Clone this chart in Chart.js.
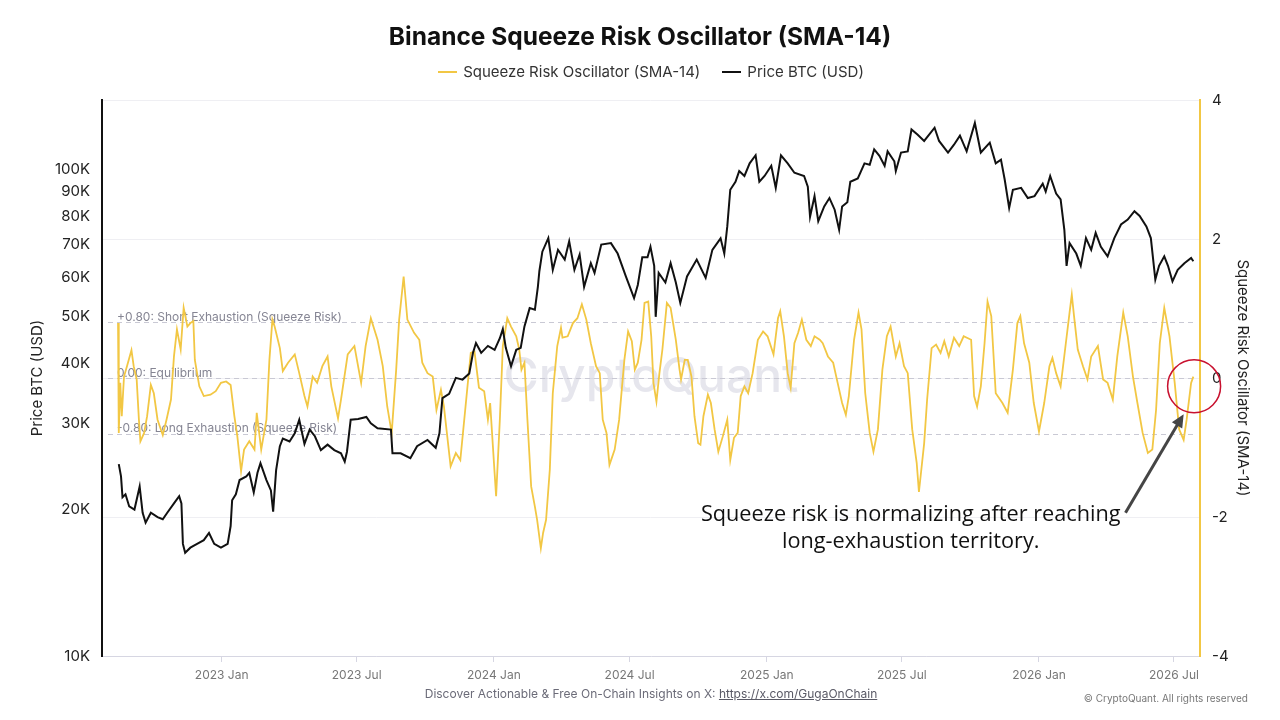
<!DOCTYPE html>
<html>
<head>
<meta charset="utf-8">
<script src="https://cdn.jsdelivr.net/npm/chart.js@4.4.1/dist/chart.umd.min.js"></script>
<style>
  html, body { margin: 0; padding: 0; background: #fff; }
  #wrap { position: relative; width: 1280px; height: 720px; }
  #legend { position: absolute; top: 62px; left: 102px; width: 1098px; text-align: center; font: 15px Inter, "Noto Sans", sans-serif; color: #333; line-height: 19px; }
  #legend .item { margin: 0 11px; white-space: nowrap; }
  #legend i { display: inline-block; width: 19px; height: 2px; vertical-align: middle; margin-right: 6px; position: relative; top: -1px; }
  #footer { position: absolute; left: 102px; width: 1098px; top: 686px; text-align: center; font: 12px Inter, "Noto Sans", sans-serif; color: #6b6b78; line-height: 16px; }
  #footer a { color: #5a5a66; }
  #copy { position: absolute; right: 32px; top: 692px; font: 10px Inter, "Noto Sans", sans-serif; color: #777; line-height: 12px; }
</style>
</head>
<body>
<div id="wrap">
  <canvas id="chart" width="1280" height="720"></canvas>
  <div id="legend"></div>
  <div id="footer">Discover Actionable &amp; Free On-Chain Insights on X: <a href="#">https://x.com/GugaOnChain</a></div>
  <div id="copy">© CryptoQuant. All rights reserved</div>
</div>
<script>
// ---- data ----
const priceDates = [
  '2022-08-16','2022-08-19','2022-08-21','2022-08-25','2022-08-30','2022-09-06','2022-09-13','2022-09-17','2022-09-21','2022-09-28',
  '2022-10-07','2022-10-14','2022-10-20','2022-10-29','2022-11-05','2022-11-08','2022-11-10','2022-11-13','2022-11-20','2022-11-29',
  '2022-12-08','2022-12-15','2022-12-22','2022-12-31','2023-01-09','2023-01-13','2023-01-15','2023-01-20','2023-01-25','2023-02-03',
  '2023-02-07','2023-02-13','2023-02-18','2023-02-22','2023-03-02','2023-03-08','2023-03-11','2023-03-15','2023-03-20','2023-03-24',
  '2023-04-02','2023-04-09','2023-04-15','2023-04-22','2023-04-29','2023-05-06','2023-05-14','2023-05-23','2023-06-01','2023-06-10',
  '2023-06-15','2023-06-18','2023-06-23','2023-07-03','2023-07-14','2023-07-20','2023-07-29','2023-08-16','2023-08-18','2023-08-29',
  '2023-09-11','2023-09-20','2023-10-04','2023-10-15','2023-10-20','2023-10-24','2023-11-02','2023-11-11','2023-11-20','2023-11-29',
  '2023-12-04','2023-12-08','2023-12-15','2023-12-24','2024-01-02','2024-01-09','2024-01-13','2024-01-17','2024-01-24','2024-01-31',
  '2024-02-06','2024-02-11','2024-02-18','2024-02-25','2024-02-29','2024-03-02','2024-03-06','2024-03-14','2024-03-20','2024-03-27',
  '2024-04-05','2024-04-11','2024-04-18','2024-04-25','2024-05-01','2024-05-10','2024-05-15','2024-05-24','2024-06-06','2024-06-15',
  '2024-06-26','2024-07-07','2024-07-12','2024-07-18','2024-07-25','2024-07-29','2024-08-03','2024-08-05','2024-08-09','2024-08-18',
  '2024-08-25','2024-09-01','2024-09-07','2024-09-16','2024-09-29','2024-10-11','2024-10-20','2024-10-31','2024-11-05','2024-11-09',
  '2024-11-13','2024-11-20','2024-11-25','2024-12-02','2024-12-09','2024-12-17','2024-12-22','2024-12-29','2025-01-07','2025-01-13',
  '2025-01-20','2025-01-29','2025-02-07','2025-02-20','2025-02-25','2025-02-28','2025-03-06','2025-03-11','2025-03-19','2025-03-26',
  '2025-04-02','2025-04-08','2025-04-12','2025-04-19','2025-04-23','2025-05-03','2025-05-12','2025-05-19','2025-05-25','2025-06-01',
  '2025-06-08','2025-06-12','2025-06-21','2025-06-23','2025-06-30','2025-07-09','2025-07-14','2025-07-22','2025-07-31','2025-08-14',
  '2025-08-20','2025-09-01','2025-09-09','2025-09-17','2025-09-26','2025-10-07','2025-10-15','2025-10-27','2025-11-04','2025-11-11',
  '2025-11-16','2025-11-22','2025-11-27','2025-12-08','2025-12-17','2025-12-26','2026-01-06','2026-01-10','2026-01-16','2026-01-24',
  '2026-01-30','2026-02-04','2026-02-07','2026-02-11','2026-02-20','2026-02-26','2026-03-05','2026-03-12','2026-03-18','2026-03-25',
  '2026-04-03','2026-04-12','2026-04-21','2026-04-30','2026-05-09','2026-05-16','2026-05-25','2026-05-31','2026-06-06','2026-06-11',
  '2026-06-18','2026-06-23','2026-06-29','2026-07-06','2026-07-15','2026-07-24','2026-07-27'
];
const priceValues = [
  24800,23400,21200,21500,20300,20000,22300,19700,18800,19700,
  19300,19100,19700,20600,21300,20600,17000,16300,16700,17000,
  17300,17900,17000,16700,17000,18500,20900,21500,23000,23400,
  23800,21700,23800,24900,23000,21900,19800,24100,27000,28000,
  27600,28700,30600,27300,29200,28300,26500,27200,26500,26100,
  25100,26300,30600,30700,31000,30100,29400,29200,26100,26100,
  25500,27000,27800,26800,28700,33900,34600,37300,37000,38100,
  42000,44000,42000,43400,42600,45000,47000,43000,39400,42600,
  43000,47600,51900,51500,57400,61800,67800,72300,62200,68400,
  65300,71200,62200,66900,57400,64200,61300,70100,70600,67200,
  60300,54400,57900,66000,66000,69400,63400,49800,61300,58600,
  64200,58600,53200,60300,65300,59900,68400,72200,67200,76400,
  90900,94400,99300,97000,103000,107000,94400,97000,101800,91700,
  107000,103000,98500,97000,92200,80000,88200,78300,84000,87400,
  82700,75200,84000,85700,94400,95900,103000,102300,110000,106700,
  101800,109000,104000,99300,108400,109000,120900,118000,114500,121900,
  114500,108400,112500,117400,109000,124700,108400,113600,103000,104800,
  95400,83400,90900,91700,87400,88200,93500,90100,97000,89300,
  86800,75200,63400,70600,67200,63400,72300,68400,74100,69400,
  66300,72300,77100,78900,82100,80300,76400,72300,59400,63400,
  66300,63400,58900,62200,64200,65800,64800
];
const oscDates = [
  '2022-08-15','2022-08-16','2022-08-18','2022-08-20','2022-08-23','2022-08-27','2022-09-02','2022-09-05','2022-09-09','2022-09-12',
  '2022-09-14','2022-09-19','2022-09-23','2022-09-28','2022-10-02','2022-10-07','2022-10-14','2022-10-19','2022-10-25','2022-10-29',
  '2022-11-02','2022-11-07','2022-11-11','2022-11-16','2022-11-20','2022-11-24','2022-11-26','2022-12-02','2022-12-08','2022-12-17',
  '2022-12-24','2022-12-31','2023-01-07','2023-01-13','2023-01-18','2023-01-22','2023-01-27','2023-01-31','2023-02-07','2023-02-14',
  '2023-02-17','2023-02-23','2023-03-02','2023-03-06','2023-03-10','2023-03-13','2023-03-20','2023-03-24','2023-03-31','2023-04-09',
  '2023-04-15','2023-04-22','2023-04-26','2023-05-03','2023-05-09','2023-05-16','2023-05-23','2023-05-28','2023-06-06','2023-06-10',
  '2023-06-19','2023-06-28','2023-07-07','2023-07-13','2023-07-20','2023-07-29','2023-08-05','2023-08-11','2023-08-17','2023-08-23',
  '2023-08-27','2023-09-02','2023-09-07','2023-09-16','2023-09-23','2023-09-27','2023-10-04','2023-10-11','2023-10-16','2023-10-22',
  '2023-10-26','2023-11-04','2023-11-11','2023-11-17','2023-11-24','2023-12-01','2023-12-06','2023-12-12','2023-12-19','2023-12-24',
  '2023-12-27','2024-01-02','2024-01-04','2024-01-09','2024-01-13','2024-01-19','2024-01-24','2024-01-31','2024-02-04','2024-02-07',
  '2024-02-11','2024-02-15','2024-02-20','2024-02-25','2024-02-28','2024-03-04','2024-03-07','2024-03-11','2024-03-16','2024-03-20',
  '2024-03-26','2024-03-31','2024-04-02','2024-04-09','2024-04-16','2024-04-22','2024-04-28','2024-05-04','2024-05-10','2024-05-17',
  '2024-05-22','2024-05-26','2024-05-31','2024-06-04','2024-06-11','2024-06-17','2024-06-24','2024-06-29','2024-07-04','2024-07-08',
  '2024-07-12','2024-07-17','2024-07-21','2024-07-26','2024-07-30','2024-08-02','2024-08-06','2024-08-10','2024-08-14','2024-08-20',
  '2024-08-25','2024-09-01','2024-09-06','2024-09-08','2024-09-13','2024-09-17','2024-09-22','2024-09-26','2024-10-01','2024-10-04',
  '2024-10-08','2024-10-14','2024-10-18','2024-10-23','2024-10-28','2024-11-03','2024-11-09','2024-11-13','2024-11-18','2024-11-23',
  '2024-11-27','2024-12-02','2024-12-07','2024-12-13','2024-12-20','2024-12-27','2025-01-02','2025-01-10','2025-01-16','2025-01-19',
  '2025-01-24','2025-01-29','2025-02-02','2025-02-07','2025-02-12','2025-02-17','2025-02-23','2025-03-01','2025-03-06','2025-03-13',
  '2025-03-17','2025-03-24','2025-03-31','2025-04-06','2025-04-12','2025-04-17','2025-04-21','2025-04-28','2025-05-04','2025-05-08',
  '2025-05-13','2025-05-19','2025-05-24','2025-05-30','2025-06-05','2025-06-11','2025-06-16','2025-06-23','2025-06-28','2025-07-04',
  '2025-07-09','2025-07-15','2025-07-21','2025-07-24','2025-07-31','2025-08-04','2025-08-10','2025-08-16','2025-08-22','2025-08-27',
  '2025-09-02','2025-09-09','2025-09-16','2025-09-22','2025-10-02','2025-10-06','2025-10-10','2025-10-15','2025-10-20','2025-10-24',
  '2025-10-29','2025-11-04','2025-11-13','2025-11-20','2025-11-27','2025-12-03','2025-12-07','2025-12-12','2025-12-19','2025-12-25',
  '2026-01-01','2026-01-08','2026-01-15','2026-01-19','2026-01-24','2026-01-30','2026-02-06','2026-02-11','2026-02-14','2026-02-17',
  '2026-02-22','2026-03-01','2026-03-07','2026-03-12','2026-03-21','2026-03-28','2026-04-03','2026-04-10','2026-04-16','2026-04-24',
  '2026-04-30','2026-05-07','2026-05-13','2026-05-20','2026-05-27','2026-06-02','2026-06-07','2026-06-12','2026-06-18','2026-06-25',
  '2026-07-02','2026-07-08','2026-07-14','2026-07-18','2026-07-24','2026-07-27'
];
const oscValues = [
  0.79,-0.79,-0.07,-0.55,0.02,0.17,0.40,0.17,-0.02,-0.60,
  -0.91,-0.79,-0.55,-0.10,-0.22,-0.60,-0.82,-0.60,-0.31,0.31,
  0.70,0.41,1.01,0.74,0.79,0.82,0.26,-0.12,-0.26,-0.24,
  -0.19,-0.07,-0.05,-0.10,-0.55,-0.84,-1.34,-1.03,-0.91,-1.03,
  -0.50,-1.03,-0.60,0.26,0.84,0.74,0.43,0.10,0.22,0.34,
  0.07,-0.26,-0.41,0.02,-0.07,0.17,0.31,-0.12,-0.58,-0.31,
  0.34,0.46,-0.07,0.46,0.86,0.55,0.17,-0.41,-0.79,0.12,
  0.84,1.46,0.84,0.65,0.55,0.22,0.07,0.02,-0.46,-0.17,
  -0.41,-1.27,-1.08,-1.18,-0.41,0.36,0.38,-0.14,-0.19,-0.60,
  -0.36,-1.37,-1.70,-0.60,0.46,0.86,0.74,0.60,0.41,0.12,
  0.22,-0.60,-1.56,-1.85,-2.04,-2.45,-2.23,-2.04,-1.32,-0.22,
  0.46,0.72,0.58,0.60,0.79,0.86,1.06,0.84,0.50,0.17,
  0.07,-0.60,-0.79,-1.25,-1.03,-0.60,0.26,0.67,0.53,0.12,
  0.22,0.55,1.08,1.10,0.60,-0.07,-0.34,0.07,0.41,1.08,
  1.01,0.55,0.12,-0.02,0.26,0.26,0.02,-0.55,-0.94,-0.96,
  -0.55,-0.24,-0.36,-0.74,-1.06,-0.84,-0.60,-1.18,-0.86,-0.79,
  -0.26,-0.12,-0.22,0.07,0.55,0.67,0.60,0.34,0.86,0.96,
  0.60,0.07,-0.14,0.50,0.65,0.84,0.55,0.46,0.60,0.55,
  0.50,0.31,0.22,-0.07,-0.36,-0.53,-0.26,0.55,0.94,0.70,
  -0.22,-0.79,-1.06,-0.74,0.12,0.60,0.74,0.31,0.50,0.17,
  0.07,-0.74,-1.22,-1.64,-0.94,-0.31,0.43,0.48,0.36,0.53,
  0.31,0.58,0.46,0.60,0.55,-0.26,-0.41,-0.12,0.50,1.10,
  0.89,-0.22,-0.36,-0.50,0.12,0.79,0.89,0.50,0.22,-0.36,
  -0.77,-0.36,0.17,0.29,0.07,-0.12,0.50,0.94,1.20,0.89,
  0.41,0.17,-0.02,0.31,0.46,-0.02,-0.07,-0.31,0.31,0.94,
  0.60,0.02,-0.36,-0.79,-1.08,-1.03,-0.46,0.50,1.01,0.60,
  -0.07,-0.74,-0.89,-0.60,-0.07,0.02
];

const xTickDates = ['2023-01-01','2023-07-01','2024-01-01','2024-07-01','2025-01-01','2025-07-01','2026-01-01','2026-07-01'];
const xTickLabels = ['2023 Jan','2023 Jul','2024 Jan','2024 Jul','2025 Jan','2025 Jul','2026 Jan','2026 Jul'];
const priceTicks = [10000,20000,30000,40000,50000,60000,70000,80000,90000,100000];
const levelValues = [0.8, 0, -0.8];
const levelLabels = ['+0.80: Short Exhaustion (Squeeze Risk)', '0.00: Equilibrium', '-0.80: Long Exhaustion (Squeeze Risk)'];

// note + arrow + circle, anchored in data space (date, oscillator value)
const noteLines = ['Squeeze risk is normalizing after reaching', 'long-exhaustion territory.'];
const noteAt = ['2025-07-13', -1.97];
const arrowFrom = ['2026-04-27', -1.94];
const arrowTo = ['2026-07-14', -0.52];
const circleAt = ['2026-07-28', -0.12];

const YELLOW = '#f2c744';
const xMin = Date.parse('2022-07-24T12:00:00Z');
const xMax = Date.parse('2026-08-04T22:00:00Z');

const toPoints = (dates, vals) => dates.map((d, i) => ({ x: Date.parse(d), y: vals[i] }));

Chart.defaults.font.family = 'Inter, "Noto Sans", sans-serif';
Chart.defaults.color = '#222';

const overlay = {
  id: 'overlay',
  beforeDatasetsDraw(chart) {
    const { ctx, chartArea: a, scales } = chart;
    const y2 = scales.y2;
    ctx.save();
    // watermark
    ctx.font = '500 48px Inter, sans-serif';
    ctx.fillStyle = 'rgba(165,165,190,0.28)';
    ctx.textAlign = 'center';
    ctx.textBaseline = 'middle';
    ctx.fillText('CryptoQuant', (a.left + a.right) / 2, (a.top + a.bottom) / 2);
    // threshold lines
    ctx.setLineDash([5, 4]);
    ctx.lineWidth = 1;
    ctx.strokeStyle = '#c9c9d4';
    levelValues.forEach(v => {
      const y = Math.round(y2.getPixelForValue(v)) + 0.5;
      ctx.beginPath();
      ctx.moveTo(a.left + 6, y);
      ctx.lineTo(a.right - 5, y);
      ctx.stroke();
    });
    ctx.setLineDash([]);
    ctx.font = '12px Inter, sans-serif';
    ctx.fillStyle = '#858593';
    ctx.textAlign = 'left';
    ctx.textBaseline = 'bottom';
    levelValues.forEach((v, i) => {
      ctx.fillText(levelLabels[i], a.left + 15, y2.getPixelForValue(v) + 1);
    });
    ctx.restore();
  },
  afterDatasetsDraw(chart) {
    const { ctx, scales } = chart;
    const px = p => [scales.x.getPixelForValue(Date.parse(p[0])), scales.y2.getPixelForValue(p[1])];
    ctx.save();
    // note text
    const [nx, ny] = px(noteAt);
    ctx.font = '21.7px "Open Sans", sans-serif';
    ctx.fillStyle = '#111';
    ctx.textAlign = 'center';
    ctx.textBaseline = 'middle';
    noteLines.forEach((t, i) => ctx.fillText(t, nx, ny + i * 27));
    // arrow
    const [ax, ay] = px(arrowFrom);
    const [bx, by] = px(arrowTo);
    const ang = Math.atan2(by - ay, bx - ax);
    ctx.strokeStyle = '#454545';
    ctx.fillStyle = '#454545';
    ctx.lineWidth = 3;
    ctx.beginPath();
    ctx.moveTo(ax, ay);
    ctx.lineTo(bx - 8 * Math.cos(ang), by - 8 * Math.sin(ang));
    ctx.stroke();
    ctx.beginPath();
    ctx.moveTo(bx, by);
    ctx.lineTo(bx - 13 * Math.cos(ang) + 6 * Math.sin(ang), by - 13 * Math.sin(ang) - 6 * Math.cos(ang));
    ctx.lineTo(bx - 13 * Math.cos(ang) - 6 * Math.sin(ang), by - 13 * Math.sin(ang) + 6 * Math.cos(ang));
    ctx.closePath();
    ctx.fill();
    // circle
    const [cx, cy] = px(circleAt);
    ctx.strokeStyle = '#c8102e';
    ctx.lineWidth = 1.5;
    ctx.beginPath();
    ctx.arc(cx, cy, 26.5, 0, Math.PI * 2);
    ctx.stroke();
    ctx.restore();
  }
};

const chart = new Chart(document.getElementById('chart'), {
  type: 'line',
  data: {
    datasets: [
      {
        label: 'Price BTC (USD)',
        data: toPoints(priceDates, priceValues),
        yAxisID: 'y',
        borderColor: '#111',
        backgroundColor: '#111',
        borderWidth: 2,
        pointRadius: 0,
        tension: 0
      },
      {
        label: 'Squeeze Risk Oscillator (SMA-14)',
        data: toPoints(oscDates, oscValues),
        yAxisID: 'y2',
        borderColor: YELLOW,
        backgroundColor: YELLOW,
        borderWidth: 1.8,
        pointRadius: 0,
        tension: 0
      }
    ]
  },
  options: {
    responsive: false,
    animation: false,
    events: [],
    layout: { padding: { top: 13, left: 0, right: 0, bottom: 0 } },
    plugins: {
      title: {
        display: true,
        text: 'Binance Squeeze Risk Oscillator (SMA-14)',
        color: '#111',
        font: { size: 24.5, weight: 'bold' },
        padding: { top: 10, bottom: 47.6 }
      },
      legend: { display: false },
      tooltip: { enabled: false }
    },
    scales: {
      x: {
        type: 'linear',
        min: xMin,
        max: xMax,
        bounds: 'data',
        afterBuildTicks: s => { s.ticks = xTickDates.map(d => ({ value: Date.parse(d) })); },
        afterFit: s => { s.height = 64; },
        ticks: {
          autoSkip: false,
          maxRotation: 0,
          padding: 6,
          color: '#777',
          font: { size: 12 },
          callback: (v, i) => xTickLabels[i]
        },
        grid: { drawOnChartArea: false, drawTicks: true, tickLength: 6, color: '#d6d6e2' },
        border: { color: '#d6d6e2', width: 1 }
      },
      y: {
        type: 'logarithmic',
        position: 'left',
        min: 10000,
        max: 139000,
        afterBuildTicks: s => { s.ticks = priceTicks.map(v => ({ value: v })); },
        afterFit: s => { s.width = 102; },
        ticks: {
          padding: 12,
          color: '#222',
          font: { size: 15 },
          callback: v => (v / 1000) + 'K'
        },
        grid: { display: false, drawTicks: false },
        border: { color: '#111', width: 2 },
        title: { display: true, text: 'Price BTC (USD)', color: '#222', font: { size: 15 }, padding: { top: 28, bottom: 0 } }
      },
      y2: {
        type: 'linear',
        position: 'right',
        min: -4,
        max: 4,
        afterFit: s => { s.width = 80; },
        ticks: { stepSize: 2, padding: 12, color: '#222', font: { size: 15 } },
        grid: { color: '#efeff3', drawTicks: false },
        border: { color: YELLOW, width: 2 },
        title: { display: true, text: 'Squeeze Risk Oscillator (SMA-14)', color: '#222', font: { size: 15 }, padding: { top: 28, bottom: 0 } }
      }
    }
  },
  plugins: [overlay]
});

// HTML legend, oscillator first as in the source
const legendEl = document.getElementById('legend');
chart.data.datasets.slice().reverse().forEach(ds => {
  const item = document.createElement('span');
  item.className = 'item';
  const sw = document.createElement('i');
  sw.style.background = ds.borderColor;
  item.appendChild(sw);
  item.appendChild(document.createTextNode(ds.label));
  legendEl.appendChild(item);
});
</script>
</body>
</html>
